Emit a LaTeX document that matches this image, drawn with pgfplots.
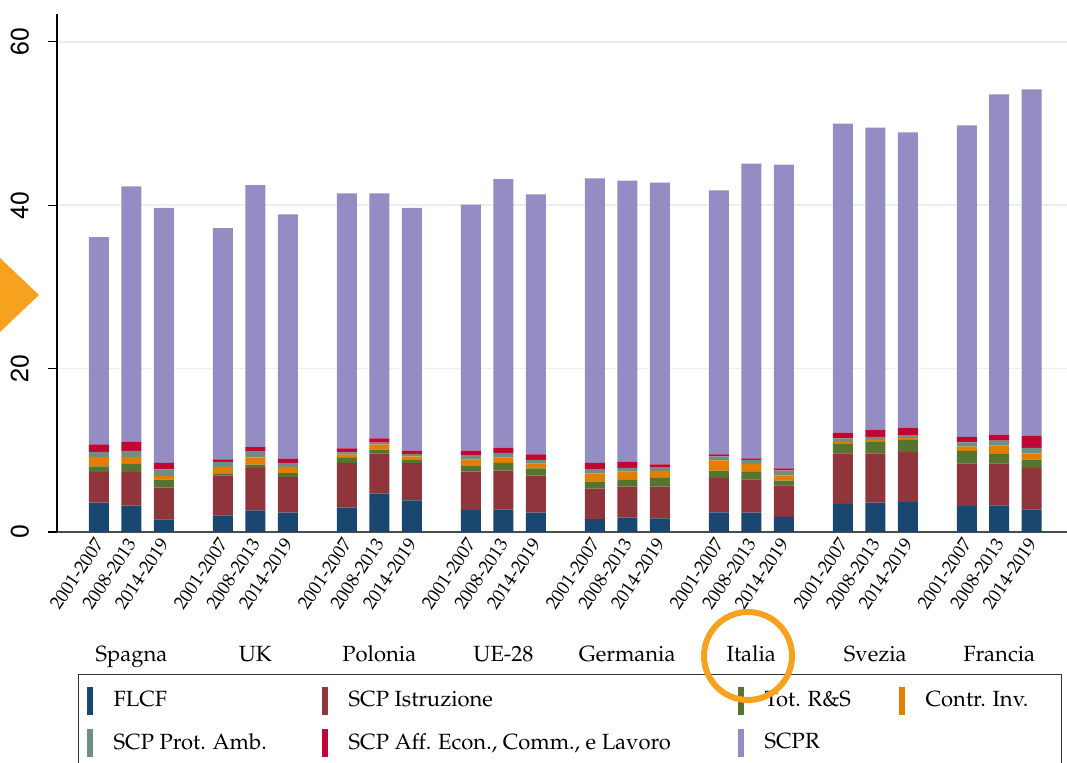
\documentclass[border=0pt]{standalone}
\usepackage[T1]{fontenc}
\renewcommand{\rmdefault}{ppl}
\renewcommand{\sfdefault}{phv}
\usepackage{pgfplots}
\usepackage{pgfplotstable}
\pgfplotsset{compat=1.18}
\definecolor{cflcf}{RGB}{26,71,111}
\definecolor{cistr}{RGB}{144,53,59}
\definecolor{crs}{RGB}{85,117,47}
\definecolor{cinv}{RGB}{227,126,0}
\definecolor{camb}{RGB}{110,142,132}
\definecolor{caff}{RGB}{193,5,52}
\definecolor{cscpr}{RGB}{147,141,196}
\definecolor{gridc}{RGB}{232,241,242}
\definecolor{hl}{RGB}{246,162,30}

\pgfplotstableread{
x      flcf  istr  rs    inv   amb   aff   scpr
0      3.59  3.76  0.69  1.14  0.62  0.93  25.37
1      3.22  4.13  1.06  0.77  0.74  1.10  31.27
2      1.55  3.88  0.98  0.45  0.81  0.78  31.22
3.815  2.04  4.90  0.24  0.78  0.61  0.33  28.30
4.815  2.65  5.19  0.40  0.90  0.70  0.56  32.05
5.815  2.37  4.36  0.49  0.74  0.49  0.49  29.92
7.63   2.98  5.47  0.61  0.41  0.29  0.48  31.19
8.63   4.69  4.94  0.45  0.61  0.25  0.53  29.96
9.63   3.88  4.57  0.45  0.37  0.28  0.41  29.71
11.445 2.69  4.70  0.77  0.70  0.49  0.61  30.12
12.445 2.73  4.78  0.94  0.69  0.53  0.66  32.85
13.445 2.37  4.53  0.90  0.57  0.45  0.69  31.80
15.26  1.59  3.72  0.85  1.02  0.45  0.82  34.84
16.26  1.76  3.79  0.90  0.94  0.45  0.73  34.43
17.26  1.67  3.88  1.06  0.86  0.41  0.41  34.47
19.075 2.41  4.20  0.90  1.27  0.49  0.24  32.31
20.075 2.37  4.08  0.90  0.98  0.49  0.20  36.06
21.075 1.84  3.87  0.58  0.65  0.61  0.25  37.16
22.89  3.43  6.20  1.15  0.24  0.45  0.69  37.82
23.89  3.59  6.04  1.39  0.25  0.36  0.90  36.96
24.89  3.67  6.13  1.47  0.24  0.29  0.98  36.14
26.705 3.18  5.23  1.51  0.53  0.53  0.65  38.14
27.705 3.27  5.14  1.22  0.94  0.61  0.74  41.65
28.705 2.78  5.06  1.02  0.77  0.66  1.47  42.42
}\datatable

\begin{document}
\begin{tikzpicture}
\begin{axis}[
  at={(28.5pt,115pt)}, anchor=south west,
  scale only axis, width=505pt, height=259pt,
  xmin=-1.29, xmax=29.79, ymin=0, ymax=63.4,
  ybar stacked, bar width=10pt,
  axis x line*=bottom, axis y line*=left,
  axis line style={-},
  x axis line style={draw=black!70, line width=1.2pt},
  y axis line style={draw=black, line width=0.6pt},
  ytick={0,20,40,60},
  ymajorgrids, grid style={draw=gridc, line width=0.8pt},
  tick align=outside, major tick length=4.5pt,
  ytick style={draw=black, line width=0.6pt},
  xtick style={draw=none},
  xtick=data,
  xticklabels={2001-2007,2008-2013,2014-2019,2001-2007,2008-2013,2014-2019,2001-2007,2008-2013,2014-2019,2001-2007,2008-2013,2014-2019,2001-2007,2008-2013,2014-2019,2001-2007,2008-2013,2014-2019,2001-2007,2008-2013,2014-2019,2001-2007,2008-2013,2014-2019},
  xticklabel style={rotate=56, anchor=east, font=\fontsize{9.3}{10}\selectfont, inner sep=1pt, xshift=1.5pt},
  /pgf/number format/assume math mode=true,
  yticklabel style={rotate=90, anchor=south, font=\fontsize{12.5}{13}\sffamily, yshift=6pt},
  clip=false,
  legend columns=4,
  legend cell align=left,
  legend style={at={(0.0208,-0.2741)}, anchor=north west,
    draw=black!80, line width=0.6pt,
    inner xsep=4pt, inner ysep=6pt,
    font=\fontsize{11}{12}\selectfont,
    row sep=7pt,
    /tikz/every odd column/.append style={column sep=8.5pt},
    /tikz/every even column/.append style={column sep=0pt}},
  legend image code/.code={\fill[line width=0pt] (0pt,-7pt) rectangle (3pt,7pt);},
]
\addplot[fill=cflcf, draw=none] table[x=x,y=flcf]{\datatable};
\addlegendentry{\makebox[102pt][l]{FLCF}}
\addplot[fill=cistr, draw=none] table[x=x,y=istr]{\datatable};
\addlegendentry{\makebox[192.5pt][l]{SCP Istruzione}}
\addplot[fill=crs, draw=none] table[x=x,y=rs]{\datatable};
\addlegendentry{\makebox[65pt][l]{Tot. R\&S}}
\addplot[fill=cinv, draw=none] table[x=x,y=inv]{\datatable};
\addlegendentry{\makebox[62pt][l]{Contr. Inv.}}
\addplot[fill=camb, draw=none] table[x=x,y=amb]{\datatable};
\addlegendentry{\makebox[102pt][l]{SCP Prot. Amb.}}
\addplot[fill=caff, draw=none] table[x=x,y=aff]{\datatable};
\addlegendentry{\makebox[192.5pt][l]{SCP Aff. Econ., Comm., e Lavoro}}
\addplot[fill=cscpr, draw=none] table[x=x,y=scpr]{\datatable};
\addlegendentry{\makebox[65pt][l]{SCPR}}

\foreach \c/\n in {1/Spagna, 4.815/UK, 8.63/Polonia, 12.445/UE-28, 16.26/Germania, 20.075/Italia, 23.89/Svezia, 27.705/Francia}{
  \edef\temp{\noexpand\node[font=\noexpand\fontsize{11}{12}\noexpand\selectfont, anchor=base] at (axis cs:\c,0) [yshift=-64.5pt] {\n};}
  \temp
}
\end{axis}
\begin{scope}[x=0.5pt, y=-0.5pt, shift={(0pt,381pt)}]
  \fill[hl] (0,258) -- (39,295) -- (0,332) -- cycle;
  \draw[hl, line width=3pt] (748,656) circle (44);
\end{scope}
\pgfresetboundingbox
\path[use as bounding box] (0,0) rectangle (533.5pt,381pt);
\end{tikzpicture}
\end{document}
